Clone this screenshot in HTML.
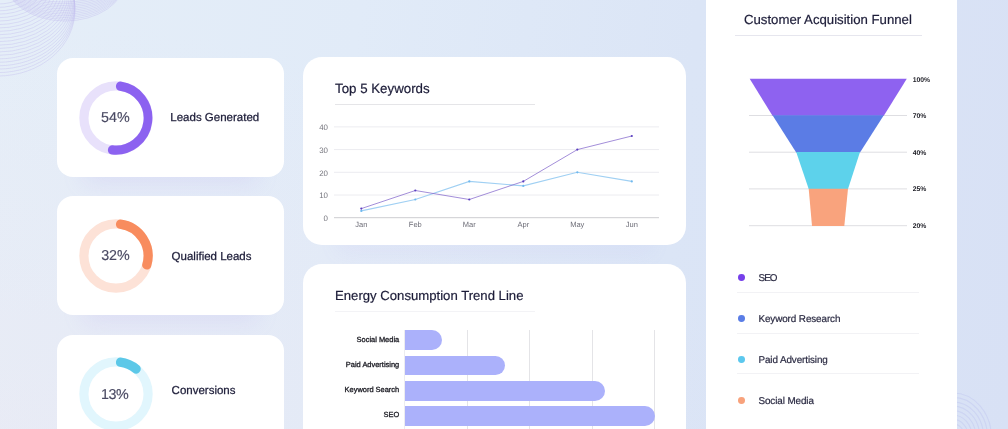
<!DOCTYPE html>
<html lang="en">
<head>
<meta charset="utf-8">
<title>Marketing Dashboard</title>
<style>
*{box-sizing:border-box;margin:0;padding:0}
html,body{width:1008px;height:429px;overflow:hidden}
body{font-family:"Liberation Sans",sans-serif;color:#1f1f3a;position:relative;text-rendering:geometricPrecision;
background:radial-gradient(ellipse 75% 95% at 0% 100%,rgba(240,230,240,.34) 0%,rgba(240,230,240,.2) 40%,rgba(240,230,240,0) 100%),linear-gradient(97deg,#e5eef8 0%,#e1ebf8 34%,#dbe5f6 66%,#d8e1f5 100%);}
.deco{position:absolute;left:0;top:0;width:1008px;height:429px;pointer-events:none}
.card{position:absolute;background:#fff;border-radius:19px;box-shadow:0 34px 22px -27px rgba(165,145,240,.15)}
.kpi{left:57px;width:227px;height:119.2px;border-radius:16px}
.kpi svg{position:absolute;left:79px;top:80px;width:74px;height:74px}
.kpi svg{left:22px;top:23px}
.kpi .pct{position:absolute;left:21.4px;top:23px;width:74px;height:74px;line-height:73px;text-align:center;font-size:14.3px;color:#4a4a63;-webkit-text-stroke:.15px #4a4a63}
.kpi .lbl{position:absolute;left:113.3px;top:0;height:119px;line-height:119.6px;font-size:11.5px;color:#1c1c38;white-space:nowrap;-webkit-text-stroke:.25px #1c1c38}
.ttl{position:absolute;font-size:13.3px;line-height:16px;color:#1c1c38;white-space:nowrap;-webkit-text-stroke:.2px #1c1c38;margin-top:-.6px}
.rule{position:absolute;height:1px;background:#e5e5e8}
.chart{left:303px;width:383.2px;box-shadow:0 42px 20px -34px rgba(160,140,240,.07)}
.funnel{left:705.6px;top:-30px;width:251.2px;height:500px;border-radius:0;box-shadow:none}
.ax{position:absolute;font-size:7.5px;line-height:10px;color:#6e6e78;white-space:nowrap}
.ay{font-size:7.9px;color:#74747c}
.bl{position:absolute;right:287px;font-size:7.45px;line-height:10px;color:#1a1a22;-webkit-text-stroke:.3px #1a1a22;white-space:nowrap;text-align:right}
.bar{position:absolute;left:101.8px;height:19.6px;background:#abb1fb;border-radius:0 10px 10px 0}
.vg{position:absolute;top:66px;width:1px;height:110px;background:#e4e4e7}
.fl{position:absolute;left:207.1px;font-size:6.8px;line-height:10px;font-weight:bold;color:#1e1e26;white-space:nowrap}
.lg{position:absolute;left:52.9px;font-size:9.9px;line-height:14px;color:#2a2a42;white-space:nowrap;letter-spacing:-.1px;-webkit-text-stroke:.2px #2a2a42}
.dot{position:absolute;left:32.9px;width:6.9px;height:6.9px;border-radius:50%}
</style>
</head>
<body>
<svg class="deco" viewBox="0 0 1008 429" fill="none"><g stroke="#a99be6" stroke-width="0.4" opacity=".6"><ellipse cx="-2" cy="-12.0" rx="30.0" ry="16.0"/><ellipse cx="-2" cy="-12.0" rx="34.8" ry="19.4"/><ellipse cx="-2" cy="-11.8" rx="39.3" ry="22.7"/><ellipse cx="-2" cy="-11.6" rx="43.5" ry="25.8"/><ellipse cx="-2" cy="-11.2" rx="47.5" ry="28.9"/><ellipse cx="-2" cy="-10.8" rx="51.2" ry="31.9"/><ellipse cx="-2" cy="-10.2" rx="54.6" ry="34.8"/><ellipse cx="-2" cy="-9.6" rx="57.7" ry="37.6"/><ellipse cx="-2" cy="-8.8" rx="60.6" ry="40.2"/><ellipse cx="-2" cy="-8.0" rx="63.3" ry="42.8"/><ellipse cx="-2" cy="-7.0" rx="65.7" ry="45.3"/><ellipse cx="-2" cy="-6.0" rx="67.8" ry="47.7"/><ellipse cx="-2" cy="-4.8" rx="69.7" ry="50.0"/><ellipse cx="-2" cy="-3.6" rx="71.4" ry="52.1"/><ellipse cx="-2" cy="-2.2" rx="72.8" ry="54.2"/><ellipse cx="-2" cy="-0.8" rx="74.0" ry="56.2"/><ellipse cx="-2" cy="0.8" rx="75.0" ry="58.1"/><ellipse cx="-2" cy="2.4" rx="75.8" ry="59.9"/><ellipse cx="-2" cy="4.2" rx="76.4" ry="61.6"/><ellipse cx="-2" cy="6.0" rx="76.7" ry="63.1"/><ellipse cx="-2" cy="8.0" rx="76.9" ry="64.6"/><ellipse cx="-2" cy="10.0" rx="77.0" ry="66.0"/><ellipse cx="63.0" cy="-20" rx="57.0" ry="22.0"/><ellipse cx="63.2" cy="-20" rx="57.3" ry="23.7"/><ellipse cx="63.4" cy="-20" rx="57.5" ry="25.5"/><ellipse cx="63.5" cy="-20" rx="57.8" ry="27.2"/><ellipse cx="63.7" cy="-20" rx="58.1" ry="28.9"/><ellipse cx="63.9" cy="-20" rx="58.4" ry="30.6"/><ellipse cx="64.1" cy="-20" rx="58.6" ry="32.4"/><ellipse cx="64.3" cy="-20" rx="58.9" ry="34.1"/><ellipse cx="64.5" cy="-20" rx="59.2" ry="35.8"/><ellipse cx="64.6" cy="-20" rx="59.5" ry="37.5"/><ellipse cx="64.8" cy="-20" rx="59.7" ry="39.3"/><ellipse cx="65.0" cy="-20" rx="60.0" ry="41.0"/></g><g stroke="#c6cdf1" stroke-width="1.2" opacity=".6"><ellipse cx="953" cy="437" rx="38.3" ry="44.0"/><ellipse cx="953" cy="437" rx="34.5" ry="39.6"/><ellipse cx="953" cy="437" rx="30.6" ry="35.2"/><ellipse cx="953" cy="437" rx="26.8" ry="30.8"/><ellipse cx="953" cy="437" rx="23.0" ry="26.4"/><ellipse cx="953" cy="437" rx="19.1" ry="22.0"/><ellipse cx="953" cy="437" rx="15.3" ry="17.6"/><ellipse cx="953" cy="437" rx="11.5" ry="13.2"/><ellipse cx="953" cy="437" rx="7.7" ry="8.8"/></g></svg>
<div class="card kpi" style="top:57.5px">
  <svg viewBox="0 0 74 74" style="top:23.1px"><circle cx="37" cy="37" r="32.1" fill="none" stroke="#e8e1fb" stroke-width="9.2"/><path d="M41.24 4.78A32.5 32.5 0 0 1 33.09 69.26L33.19 68.47A31.7 31.7 0 0 0 41.14 5.57Z" fill="#8c62f0" stroke="#8c62f0" stroke-width="8.4" stroke-linejoin="round"/></svg>
  <div class="pct" style="top:24px;letter-spacing:0px">54%</div>
  <div class="lbl" style="left:113.3px;top:1.3px">Leads Generated</div>
</div>
<div class="card kpi" style="top:196px">
  <svg viewBox="0 0 74 74" style="top:23px"><circle cx="37" cy="37" r="32.1" fill="none" stroke="#fde2d7" stroke-width="9.2"/><path d="M41.24 4.78A32.5 32.5 0 0 1 68.13 46.34L67.36 46.11A31.7 31.7 0 0 0 41.14 5.57Z" fill="#f88c5e" stroke="#f88c5e" stroke-width="8.4" stroke-linejoin="round"/></svg>
  <div class="pct" style="top:24.1px;letter-spacing:-0.1px">32%</div>
  <div class="lbl" style="left:114.6px;top:1.7px">Qualified Leads</div>
</div>
<div class="card kpi" style="top:334.5px">
  <svg viewBox="0 0 74 74" style="top:22.3px"><circle cx="37" cy="37" r="32.1" fill="none" stroke="#e1f6fd" stroke-width="9.2"/><path d="M41.24 4.78A32.5 32.5 0 0 1 57.59 11.85L57.08 12.47A31.7 31.7 0 0 0 41.14 5.57Z" fill="#5cc8e8" stroke="#5cc8e8" stroke-width="8.4" stroke-linejoin="round"/></svg>
  <div class="pct" style="top:24.0px;letter-spacing:-0.55px;left:20.6px">13%</div>
  <div class="lbl" style="left:114.6px;top:-2.9px">Conversions</div>
</div>
<div class="card chart" style="top:57.3px;height:188px">
  <div class="ttl" style="left:32px;top:24.5px">Top 5 Keywords</div>
  <div class="rule" style="left:32px;top:46.5px;width:200px"></div>
  <svg style="position:absolute;left:0;top:0" width="383" height="188" viewBox="0 0 383 188">
    <g stroke="#ececf0" stroke-width="1"><line x1="31" y1="138.0" x2="356" y2="138.0"/><line x1="31" y1="115.3" x2="356" y2="115.3"/><line x1="31" y1="92.6" x2="356" y2="92.6"/><line x1="31" y1="69.9" x2="356" y2="69.9"/></g>
    <line x1="31" y1="160.7" x2="356" y2="160.7" stroke="#cdcdd0" stroke-width="1"/>
    <polyline fill="none" stroke="#a0d0f3" stroke-width="1.1" points="58.3,153.9 112.3,142.5 166.3,124.4 220.3,128.9 274.3,115.3 328.8,124.4"/>
    <polyline fill="none" stroke="#8468cc" stroke-width="0.75" points="58.3,151.6 112.3,133.5 166.3,142.5 220.3,124.4 274.3,92.6 328.8,79.0"/>
    <g fill="#6fb8ee"><circle cx="58.3" cy="153.9" r="1.1"/><circle cx="112.3" cy="142.5" r="1.1"/><circle cx="166.3" cy="124.4" r="1.1"/><circle cx="220.3" cy="128.9" r="1.1"/><circle cx="274.3" cy="115.3" r="1.1"/><circle cx="328.8" cy="124.4" r="1.1"/></g>
    <g fill="#5a3fc0"><circle cx="58.3" cy="151.6" r="1.1"/><circle cx="112.3" cy="133.5" r="1.1"/><circle cx="166.3" cy="142.5" r="1.1"/><circle cx="220.3" cy="124.4" r="1.1"/><circle cx="274.3" cy="92.6" r="1.1"/><circle cx="328.8" cy="79.0" r="1.1"/></g>
  </svg>
  <div class="ax ay" style="right:358.2px;top:66.0px">40</div><div class="ax ay" style="right:358.2px;top:88.7px">30</div><div class="ax ay" style="right:358.2px;top:111.4px">20</div><div class="ax ay" style="right:358.2px;top:134.1px">10</div><div class="ax ay" style="right:358.2px;top:156.8px">0</div>
  <div class="ax" style="left:38.3px;width:40px;text-align:center;top:162.4px">Jan</div><div class="ax" style="left:92.3px;width:40px;text-align:center;top:162.4px">Feb</div><div class="ax" style="left:146.3px;width:40px;text-align:center;top:162.4px">Mar</div><div class="ax" style="left:200.3px;width:40px;text-align:center;top:162.4px">Apr</div><div class="ax" style="left:254.3px;width:40px;text-align:center;top:162.4px">May</div><div class="ax" style="left:308.8px;width:40px;text-align:center;top:162.4px">Jun</div>
</div>
<div class="card chart" style="top:264.2px;height:200px">
  <div class="ttl" style="left:32px;top:24.2px;font-size:13.15px">Energy Consumption Trend Line</div>
  <div class="rule" style="left:32px;top:46.6px;width:200px;background:#f3f3f6"></div>
  <div class="vg" style="left:101.3px;background:#ececf0"></div><div class="vg" style="left:163.8px"></div><div class="vg" style="left:226px"></div><div class="vg" style="left:288.5px"></div><div class="vg" style="left:351px"></div>
  <div class="bar" style="top:66.3px;width:37.4px"></div><div class="bar" style="top:91.5px;width:99.9px"></div><div class="bar" style="top:116.8px;width:200.2px"></div><div class="bar" style="top:141.9px;width:250.4px"></div>
  <div class="bl" style="top:70.8px">Social Media</div><div class="bl" style="top:95.8px">Paid Advertising</div><div class="bl" style="top:120.8px">Keyword Search</div><div class="bl" style="top:145.8px">SEO</div>
</div>
<div class="card funnel">
  <div class="ttl" style="left:38.4px;top:42.6px;font-size:13.2px">Customer Acquisition Funnel</div>
  <div class="rule" style="left:29.6px;top:65px;width:186.5px;background:#e6e6ee"></div>
  <svg style="position:absolute;left:-0.7px;top:30.2px" width="252" height="250" viewBox="0 0 252 250">
    <g stroke="#dedee2" stroke-width="1"><line x1="44" y1="115.5" x2="202" y2="115.5"/><line x1="44" y1="152.2" x2="202" y2="152.2"/><line x1="44" y1="188.9" x2="202" y2="188.9"/><line x1="44" y1="225.7" x2="202" y2="225.7"/></g>
    <polygon fill="#8e62f0" points="44.7,78.8 201.8,78.8 178.8,115.7 67.5,115.7"/><polygon fill="#5b7ce5" points="67.5,115.3 178.8,115.3 155,152.39999999999998 91.2,152.39999999999998"/><polygon fill="#5dd2eb" points="91.2,152.0 155,152.0 143,189.1 103.7,189.1"/><polygon fill="#f9a37d" points="103.7,188.70000000000002 143,188.70000000000002 139.3,225.89999999999998 107,225.89999999999998"/>
  </svg>
  <div class="fl" style="top:106.2px">100%</div><div class="fl" style="top:142.4px">70%</div><div class="fl" style="top:179.0px">40%</div><div class="fl" style="top:215.4px">25%</div><div class="fl" style="top:252.1px">20%</div>
  <div class="dot" style="top:304.4px;background:#7640ea"></div><div class="lg" style="top:301.9px;letter-spacing:-.9px">SEO</div><div class="dot" style="top:345.4px;background:#5a7de6"></div><div class="lg" style="top:342.9px">Keyword Research</div><div class="dot" style="top:386.4px;background:#5cc8ee"></div><div class="lg" style="top:383.9px">Paid Advertising</div><div class="dot" style="top:427.1px;background:#f8a27c"></div><div class="lg" style="top:424.6px">Social Media</div>
  <div class="rule" style="left:31.4px;top:321.5px;width:182px;background:#f2f2f5"></div><div class="rule" style="left:31.4px;top:362.5px;width:182px;background:#f2f2f5"></div><div class="rule" style="left:31.4px;top:403.0px;width:182px;background:#f2f2f5"></div>
</div>
</body>
</html>
